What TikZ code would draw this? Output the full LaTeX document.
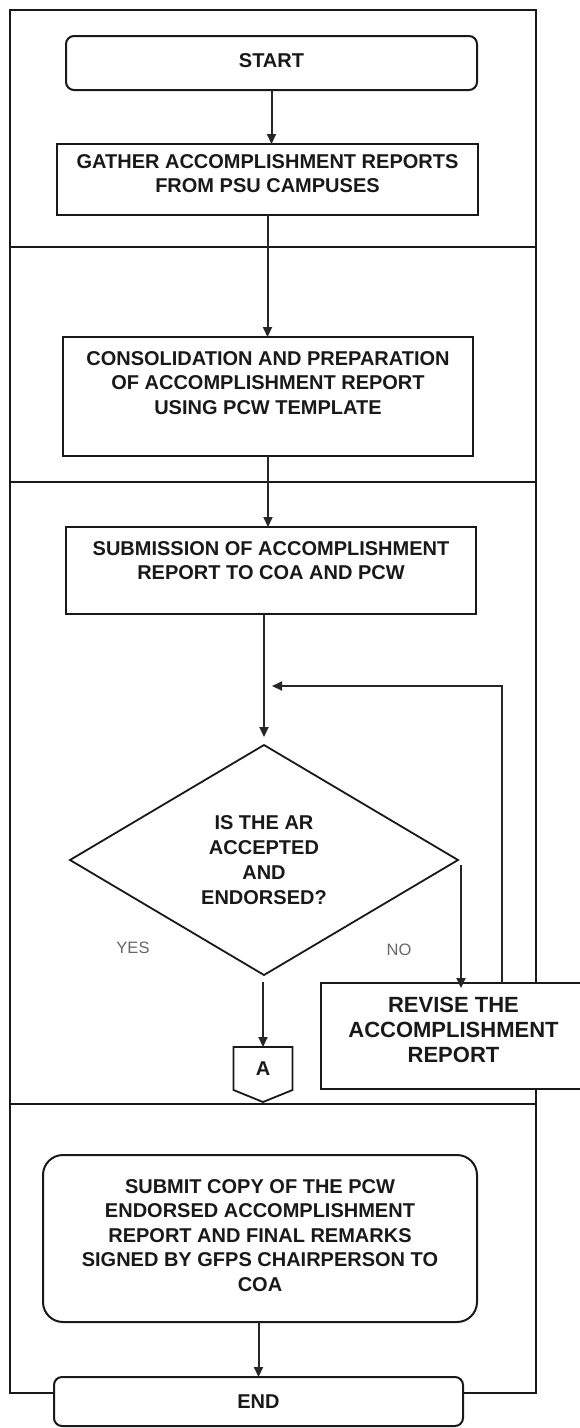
\documentclass[tikz,border=0pt]{standalone}
\usepackage{fontspec}
\setmainfont{Liberation Sans}
\usetikzlibrary{shapes.geometric,arrows.meta}
% box content: width, height, first-baseline drop, text
\newcommand\boxtext[4]{\parbox[c][#2][t]{#1}{\centering\rule{0pt}{#3}#4}}
\begin{document}
\begin{tikzpicture}[x=1pt,y=-1pt,
  every node/.style={inner sep=0pt, outer sep=0pt},
  lane/.style={line width=2pt, draw=black!90},
  stepbox/.style={draw=black!90, line width=2pt, fill=white, text=black!90,
    font=\bfseries\fontsize{20pt}{24.5pt}\selectfont},
  termbox/.style={stepbox, rounded corners=8pt},
  decision/.style={diamond, draw=black!90, line width=1.8pt, fill=white, text=black!90,
    align=center, aspect=1.69, font=\bfseries\fontsize{20pt}{25pt}\selectfont},
  flow/.style={draw=black!85, line width=2pt, -{Triangle[length=10pt,width=9pt]}},
  answer/.style={font=\fontsize{16.5pt}{19pt}\selectfont, text=black!60},
]
\useasboundingbox (0,0) rectangle (580,1428);

% swimlane frame and lane dividers
\draw[lane] (10,10) rectangle (536,1393);
\draw[lane] (10,247) -- (536,247);
\draw[lane] (10,482) -- (536,482);
\draw[lane] (10,1104) -- (536,1104);

% process steps
\node[termbox] (start) at (271.5,63) {\boxtext{411pt}{54pt}{31pt}{START}};
\node[stepbox] (gather) at (267.5,179.5)
  {\boxtext{421pt}{71pt}{24pt}{GATHER ACCOMPLISHMENT REPORTS\\FROM PSU CAMPUSES}};
\node[stepbox] (cons) at (268,396.5)
  {\boxtext{410pt}{119pt}{28pt}{CONSOLIDATION AND PREPARATION\\OF ACCOMPLISHMENT REPORT\\USING PCW TEMPLATE}};
\node[stepbox] (sub) at (271,570.5)
  {\boxtext{410pt}{87pt}{28pt}{SUBMISSION OF ACCOMPLISHMENT\\REPORT TO COA AND PCW}};
\node[decision, minimum width=388pt, minimum height=230pt] (dec) at (264,860)
  {IS THE AR\\ACCEPTED\\AND\\ENDORSED?};
\node[stepbox, font=\bfseries\fontsize{22pt}{25pt}\selectfont] (rev) at (453.5,1036)
  {\boxtext{265pt}{106pt}{29pt}{REVISE THE\\ACCOMPLISHMENT\\REPORT}};
\node[font=\bfseries\fontsize{20pt}{24pt}\selectfont, text=black!90, minimum width=59pt, minimum height=43pt]
  (conA) at (263,1068.5) {A};
\node[stepbox, rounded corners=20pt] (submit) at (260,1238.5)
  {\boxtext{434pt}{167pt}{38pt}{SUBMIT COPY OF THE PCW\\ENDORSED ACCOMPLISHMENT\\REPORT AND FINAL REMARKS\\SIGNED BY GFPS CHAIRPERSON TO\\COA}};
\node[termbox] (end) at (258.5,1401.5) {\boxtext{409pt}{49pt}{31pt}{END}};

% off-page connector outline
\draw[line width=1.8pt, draw=black!90] (conA.north west) -- (conA.north east) -- (conA.south east)
  -- ([yshift=-12pt]conA.south) -- (conA.south west) -- cycle;

% answer labels
\node[answer] (yes) at (133,948) {YES};
\node[answer] (no) at (399,950) {NO};

% connectors
\draw[flow] (start.south) -- (start.south |- gather.north);
\draw[flow] (gather.south) -- (gather.south |- cons.north);
\draw[flow] (cons.south) -- (cons.south |- sub.north);
\draw[flow, shorten >=8pt] (sub.south -| dec.north) -- (dec.north);
\coordinate (loopin) at (272,686);
\draw[flow] ([xshift=48.5pt]rev.north) |- (loopin);
\draw[flow] ([shift={(3pt,-5pt)}]dec.east) -- ([shift={(3pt,-5pt)}]dec.east |- rev.north);
\draw[flow] ([yshift=-7pt]dec.south -| conA.north) -- (conA.north);
\draw[flow] (submit.south -| end.north) -- (end.north);
\end{tikzpicture}
\end{document}
